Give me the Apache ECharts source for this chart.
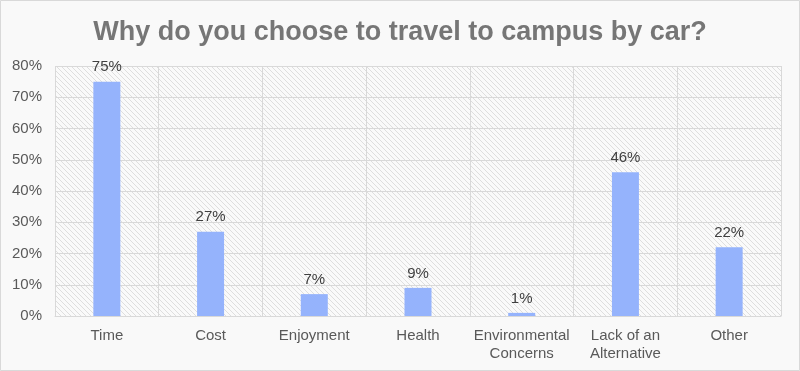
<!DOCTYPE html>
<html><head><meta charset="utf-8">
<script src="https://cdn.jsdelivr.net/npm/echarts@6/dist/echarts.min.js"></script>
<style>html,body{margin:0;padding:0;background:#f9f9f9}#c{width:800px;height:371px}</style>
</head><body><div id="c"></div>
<script>
const categories = ['Time','Cost','Enjoyment','Health','Environmental\nConcerns','Lack of an\nAlternative','Other'];
const values = [75, 27, 7, 9, 1, 46, 22];
const yTicks = [0,10,20,30,40,50,60,70,80];

const pc = document.createElement('canvas');
pc.width = 5; pc.height = 5;
const g = pc.getContext('2d');
g.fillStyle = '#fafafa'; g.fillRect(0,0,5,5);
g.strokeStyle = '#dedede'; g.lineWidth = 1;
g.beginPath();
g.moveTo(0,0); g.lineTo(5,5);
g.moveTo(-3,2); g.lineTo(3,8);
g.moveTo(2,-3); g.lineTo(8,3);
g.stroke();

const chart = echarts.init(document.getElementById('c'));
chart.setOption({
  backgroundColor: '#f9f9f9',
  animation: false,
  title: { text: 'Why do you choose to travel to campus by car?', left: 'center', top: 14,
    textStyle: { fontFamily: 'Liberation Sans, Arial', fontSize: 27, fontWeight: 'bold', color: '#767676' } },
  graphic: [{ type: 'rect', shape: { x: 0.5, y: 0.5, width: 799, height: 370 }, style: { fill: 'none', stroke: '#d9d9d9', lineWidth: 1 } }],
  grid: { left: 55, right: 19, top: 66, bottom: 55, show: true, borderWidth: 0,
    backgroundColor: { image: pc, repeat: 'repeat' } },
  xAxis: { type: 'category', data: categories,
    axisLine: { lineStyle: { color: '#d9d9d9' } }, axisTick: { show: false },
    splitLine: { show: true, lineStyle: { color: '#d9d9d9' } },
    axisLabel: { color: '#595959', fontFamily: 'Liberation Sans, Arial', fontSize: 15, margin: 11, lineHeight: 18, interval: 0 } },
  yAxis: { type: 'value', min: 0, max: 80, interval: 10,
    axisLine: { show: false }, axisTick: { show: false },
    splitLine: { lineStyle: { color: '#d9d9d9' } },
    axisLabel: { color: '#595959', fontFamily: 'Liberation Sans, Arial', fontSize: 15, margin: 13, formatter: v => v + '%' } },
  series: [{ type: 'bar', data: values, barWidth: 27,
    itemStyle: { color: '#95b3fc' },
    label: { show: true, position: 'top', distance: 7, color: '#404040', fontFamily: 'Liberation Sans, Arial', fontSize: 15, formatter: p => p.value + '%' } }]
});
</script></body></html>
